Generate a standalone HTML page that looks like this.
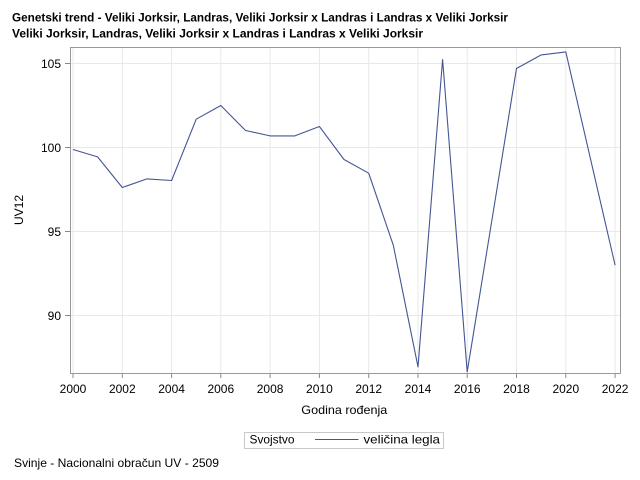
<!DOCTYPE html>
<html><head><meta charset="utf-8"><style>
html,body{margin:0;padding:0;background:#fff;}
svg{display:block;}
text{font-family:"Liberation Sans",Arial,sans-serif;fill:#000;}
</style></head><body>
<svg width="640" height="480" viewBox="0 0 640 480" xmlns="http://www.w3.org/2000/svg">
<rect width="640" height="480" fill="#fff"/>
<text x="12" y="21.5" font-size="12" font-weight="bold" textLength="496" lengthAdjust="spacingAndGlyphs">Genetski trend - Veliki Jorksir, Landras, Veliki Jorksir x Landras i Landras x Veliki Jorksir</text>
<text x="12" y="37.5" font-size="12" font-weight="bold" textLength="411" lengthAdjust="spacingAndGlyphs">Veliki Jorksir, Landras, Veliki Jorksir x Landras i Landras x Veliki Jorksir</text>
<g stroke="#e8e8e8" stroke-width="1">
<line x1="71" y1="63.5" x2="620" y2="63.5"/>
<line x1="71" y1="147.5" x2="620" y2="147.5"/>
<line x1="71" y1="231.5" x2="620" y2="231.5"/>
<line x1="71" y1="315.5" x2="620" y2="315.5"/>
<line x1="73" y1="48" x2="73" y2="373"/>
<line x1="122.3" y1="48" x2="122.3" y2="373"/>
<line x1="171.6" y1="48" x2="171.6" y2="373"/>
<line x1="220.8" y1="48" x2="220.8" y2="373"/>
<line x1="270.1" y1="48" x2="270.1" y2="373"/>
<line x1="319.4" y1="48" x2="319.4" y2="373"/>
<line x1="368.7" y1="48" x2="368.7" y2="373"/>
<line x1="418" y1="48" x2="418" y2="373"/>
<line x1="467.2" y1="48" x2="467.2" y2="373"/>
<line x1="516.5" y1="48" x2="516.5" y2="373"/>
<line x1="565.8" y1="48" x2="565.8" y2="373"/>
<line x1="615.1" y1="48" x2="615.1" y2="373"/>
</g>
<rect x="70.5" y="47.5" width="550" height="326" fill="none" stroke="#999" stroke-width="1"/>
<g stroke="#888" stroke-width="1">
<line x1="65" y1="63.5" x2="70" y2="63.5"/>
<line x1="65" y1="147.5" x2="70" y2="147.5"/>
<line x1="65" y1="231.5" x2="70" y2="231.5"/>
<line x1="65" y1="315.5" x2="70" y2="315.5"/>
<line x1="73" y1="374" x2="73" y2="378"/>
<line x1="122.3" y1="374" x2="122.3" y2="378"/>
<line x1="171.6" y1="374" x2="171.6" y2="378"/>
<line x1="220.8" y1="374" x2="220.8" y2="378"/>
<line x1="270.1" y1="374" x2="270.1" y2="378"/>
<line x1="319.4" y1="374" x2="319.4" y2="378"/>
<line x1="368.7" y1="374" x2="368.7" y2="378"/>
<line x1="418" y1="374" x2="418" y2="378"/>
<line x1="467.2" y1="374" x2="467.2" y2="378"/>
<line x1="516.5" y1="374" x2="516.5" y2="378"/>
<line x1="565.8" y1="374" x2="565.8" y2="378"/>
<line x1="615.1" y1="374" x2="615.1" y2="378"/>
</g>
<g font-size="12" text-anchor="end">
<text x="61" y="67.8">105</text>
<text x="61" y="151.8">100</text>
<text x="61" y="235.8">95</text>
<text x="61" y="319.8">90</text>
</g>
<g font-size="12" text-anchor="middle">
<text x="73" y="393">2000</text>
<text x="122.3" y="393">2002</text>
<text x="171.6" y="393">2004</text>
<text x="220.8" y="393">2006</text>
<text x="270.1" y="393">2008</text>
<text x="319.4" y="393">2010</text>
<text x="368.7" y="393">2012</text>
<text x="418" y="393">2014</text>
<text x="467.2" y="393">2016</text>
<text x="516.5" y="393">2018</text>
<text x="565.8" y="393">2020</text>
<text x="615.1" y="393">2022</text>
</g>
<text x="301.3" y="414" font-size="12" textLength="86" lengthAdjust="spacingAndGlyphs">Godina rođenja</text>
<text transform="translate(23,210) rotate(-90)" font-size="12" text-anchor="middle">UV12</text>
<polyline fill="none" stroke="#445694" stroke-width="1.1" stroke-linejoin="round" points="73,149.5 97.6,156.9 122.3,187.5 146.9,178.9 171.6,180.5 196.2,119.2 220.8,105.5 245.5,130.5 270.1,135.9 294.8,135.9 319.4,126.5 344,159.5 368.7,173.2 393.3,245.2 418,366.9 442.6,59.5 467.2,371.9 491.9,220.2 516.5,68.5 541.2,54.9 565.8,51.9 590.4,158.5 615.1,265.2"/>
<rect x="244.5" y="432.5" width="199" height="16" fill="#fff" stroke="#c8c8c8" stroke-width="1"/>
<text x="249.5" y="443.5" font-size="12" textLength="45" lengthAdjust="spacingAndGlyphs">Svojstvo</text>
<line x1="315" y1="439.5" x2="358.5" y2="439.5" stroke="#445694" stroke-width="1"/>
<text x="363.5" y="443.5" font-size="12" textLength="76.5" lengthAdjust="spacingAndGlyphs">veličina legla</text>
<text x="14" y="467" font-size="12" textLength="205" lengthAdjust="spacingAndGlyphs">Svinje - Nacionalni obračun UV - 2509</text>
</svg>
</body></html>
